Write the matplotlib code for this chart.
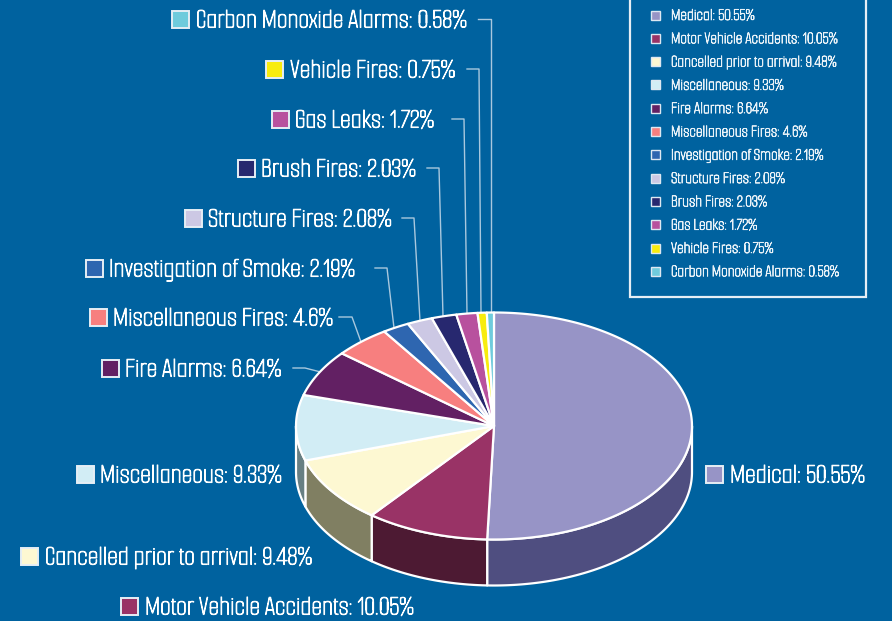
# pie chart of call types, 3d look done by hand with polygons
import numpy as np
import matplotlib
matplotlib.use('Agg')
import matplotlib.pyplot as plt
import matplotlib.patheffects as pe
from matplotlib.patches import Polygon, Rectangle

categories = ['Medical', 'Motor Vehicle Accidents', 'Cancelled prior to arrival',
              'Miscellaneous', 'Fire Alarms', 'Miscellaneous Fires',
              'Investigation of Smoke', 'Structure Fires', 'Brush Fires',
              'Gas Leaks', 'Vehicle Fires', 'Carbon Monoxide Alarms']
values = [50.55, 10.05, 9.48, 9.33, 6.64, 4.6, 2.19, 2.08, 2.03, 1.72, 0.75, 0.58]
value_text = ['50.55', '10.05', '9.48', '9.33', '6.64', '4.6', '2.19', '2.08', '2.03', '1.72', '0.75', '0.58']
top_colors = ['#9794C6', '#993366', '#FDF8D2', '#D2EDF5', '#622063', '#F77F7F',
              '#2E66B0', '#CCC8E4', '#27286F', '#B8519E', '#F8EC0E', '#6FCBDC']
side_colors = ['#4F4E80', '#4D1A33', '#807F62', '#677F83', '#622063', '#F77F7F',
               '#2E66B0', '#CCC8E4', '#27286F', '#B8519E', '#F8EC0E', '#6FCBDC']

BG = '#00629F'
LEAD = '#A9C8DE'
cx, cy, rx, ry, depth = 494, 426, 198, 113.5, 46

# swatch left, y centre, text left (outer labels)
label_pos = [(705, 474, 730), (120, 606, 145), (20, 556, 45), (76, 474, 100),
             (101, 368, 125), (89, 317, 113), (85, 268, 109), (184, 218, 208),
             (237, 168, 261), (271, 119, 295), (265, 69, 290), (171, 19, 196)]
# leader: start x, elbow x, end x (end y comes from the pie edge)
leaders = {4: (293, 305, 320), 5: (339, 352, 361), 6: (375, 387, 394), 7: (402, 414, 420),
           8: (427, 439, 443), 9: (452, 464, 467), 10: (467, 479, 481), 11: (478, 491, 491)}

fig = plt.figure(figsize=(8.92, 6.21), dpi=100, facecolor=BG)
ax = fig.add_axes([0, 0, 1, 1])
ax.set_xlim(0, 892)
ax.set_ylim(621, 0)
ax.axis('off')
FONT = ['Smooch Sans', 'Pathway Gothic One', 'Liberation Sans', 'DejaVu Sans']


def edge(deg):
    a = np.radians(deg)
    return cx + rx * np.sin(a), cy - ry * np.cos(a)


cum = np.concatenate([[0], np.cumsum(values)]) / sum(values) * 360

# side walls, only the front half shows
for i in range(len(values)):
    a0, a1 = max(cum[i], 90), min(cum[i + 1], 270)
    if a1 <= a0:
        continue
    t = np.linspace(a0, a1, 120)
    x, y = edge(t)
    pts = np.vstack([np.c_[x, y], np.c_[x, y + depth][::-1]])
    ax.add_patch(Polygon(pts, closed=True, fc=side_colors[i], ec='white', lw=1.6, joinstyle='round', zorder=2))

# top face
for i in range(len(values)):
    t = np.linspace(cum[i], cum[i + 1], 200)
    x, y = edge(t)
    pts = np.vstack([[cx, cy], np.c_[x, y]])
    ax.add_patch(Polygon(pts, closed=True, fc=top_colors[i], ec='white', lw=1.6, joinstyle='round', zorder=3))

# outer labels, the font is thin so fatten it a bit with a stroke
for i, (sx, sy, tx) in enumerate(label_pos):
    ax.add_patch(Rectangle((sx + 0.5, sy - 8.5), 17, 17, fc=top_colors[i], ec='#E6EEF5', lw=1.4, zorder=4))
    ax.text(tx, sy + 8.5, categories[i] + ': ' + value_text[i] + '%', color='white', fontsize=20,
            family=FONT, va='baseline', ha='left', zorder=5,
            path_effects=[pe.withStroke(linewidth=0.8, foreground='white')])

# leader lines
for i, (x0, x1, x2) in leaders.items():
    sy = label_pos[i][1]
    y_end = cy - ry * np.sqrt(max(1 - ((x2 - cx) / rx) ** 2, 0))
    ax.plot([x0, x1, x2], [sy, sy, y_end], color=LEAD, lw=1.0, zorder=1)

# legend box, runs off the top of the picture
ax.add_patch(Rectangle((630, -10), 236, 307, fc='none', ec='#E6EEF5', lw=1.6, zorder=4))
for i, name in enumerate(categories):
    ly = 15 + i * 23.3
    ax.add_patch(Rectangle((650.5, ly - 4.5), 9, 9, fc=top_colors[i], ec='#DDE8F2', lw=1.0, zorder=4))
    ax.text(671, ly + 5, name + ': ' + value_text[i] + '%', color='#E8F1F7', fontsize=12.4,
            family=FONT, va='baseline', ha='left', zorder=5,
            path_effects=[pe.withStroke(linewidth=0.55, foreground='#E8F1F7')])

fig.savefig('out.png', dpi=100, facecolor=BG)
